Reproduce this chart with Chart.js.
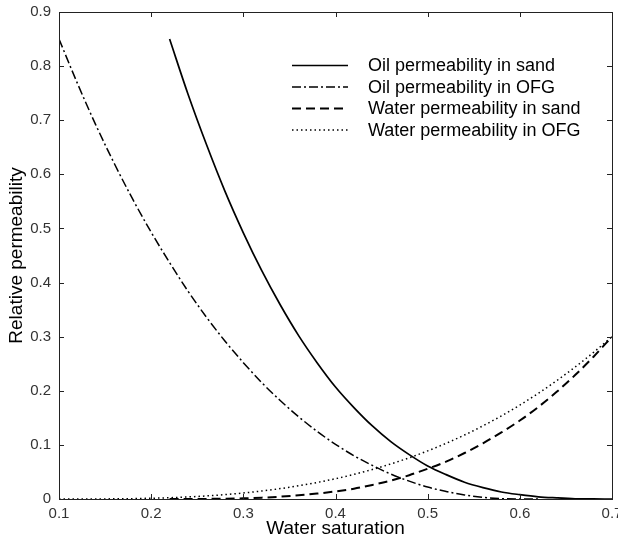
<!DOCTYPE html>
<html>
<head>
<meta charset="utf-8">
<title>Relative permeability</title>
<script src="https://cdn.jsdelivr.net/npm/chart.js@4/dist/chart.umd.min.js"></script>
<style>
  html, body { margin: 0; padding: 0; background: #fff; }
  #wrap { width: 618px; height: 543px; }
</style>
</head>
<body>
<div id="wrap"><canvas id="permChart" width="618" height="543"></canvas></div>
<script>
// Water saturation samples (shared by all curves)
const saturation = [0.10, 0.12, 0.14, 0.16, 0.18, 0.20, 0.22, 0.24, 0.26, 0.28, 0.30,
  0.32, 0.34, 0.36, 0.38, 0.40, 0.42, 0.44, 0.46, 0.48, 0.50,
  0.52, 0.54, 0.56, 0.58, 0.60, 0.62, 0.64, 0.66, 0.68, 0.70];

// Oil relative permeability, sand (starts at Sw = 0.22)
const oilSand = [null, null, null, null, null, null, 0.850, 0.748, 0.655, 0.569, 0.492,
  0.422, 0.359, 0.302, 0.252, 0.207, 0.169, 0.135, 0.106, 0.082, 0.061,
  0.045, 0.031, 0.021, 0.013, 0.008, 0.004, 0.002, 0.0005, 0.0001, 0];

// Oil relative permeability, OFG
const oilOFG = [0.850, 0.768, 0.691, 0.620, 0.554, 0.493, 0.437, 0.384, 0.336, 0.292, 0.252,
  0.215, 0.182, 0.152, 0.125, 0.101, 0.080, 0.062, 0.046, 0.033, 0.022,
  0.014, 0.0074, 0.0031, 0.0007, 0, 0, null, null, null, null];

// Water relative permeability, sand (starts at Sw = 0.22)
const waterSand = [null, null, null, null, null, null, 0, 0, 0.0002, 0.0006, 0.0013,
  0.0025, 0.0043, 0.0068, 0.010, 0.014, 0.019, 0.026, 0.034, 0.044, 0.056,
  0.069, 0.085, 0.103, 0.123, 0.145, 0.170, 0.198, 0.229, 0.263, 0.300];

// Water relative permeability, OFG
const waterOFG = [0, 0, 0.0001, 0.0003, 0.0007, 0.0014, 0.0024, 0.0038, 0.0057, 0.0081, 0.0111,
  0.0148, 0.0192, 0.0244, 0.0305, 0.0375, 0.0455, 0.0546, 0.0648, 0.0762, 0.0889,
  0.1029, 0.1183, 0.1352, 0.1536, 0.1736, 0.1953, 0.2187, 0.2439, 0.2710, 0.300];

const seriesNames = ['Oil permeability in sand', 'Oil permeability in OFG',
  'Water permeability in sand', 'Water permeability in OFG'];

const xTicks = [0.1, 0.2, 0.3, 0.4, 0.5, 0.6, 0.7];
const yTicks = [0, 0.1, 0.2, 0.3, 0.4, 0.5, 0.6, 0.7, 0.8, 0.9];

const FONT = "'Liberation Sans', Arial, Helvetica, sans-serif";

const toPoints = vals => saturation.map((x, i) => ({ x: x, y: vals[i] }));

const styles = [
  { width: 1.7, dash: [] },
  { width: 1.5, dash: [9, 3, 2, 3] },
  { width: 2, dash: [9, 5] },
  { width: 1.5, dash: [1.5, 3] }
];

const datasets = [oilSand, oilOFG, waterSand, waterOFG].map((vals, i) => ({
  label: seriesNames[i],
  data: toPoints(vals),
  borderColor: '#000',
  borderWidth: styles[i].width,
  borderDash: styles[i].dash,
  pointRadius: 0,
  fill: false,
  cubicInterpolationMode: 'monotone',
  spanGaps: false
}));

// box around the axes + ticks pointing inward on all four sides
const frameTicks = {
  id: 'frameTicks',
  afterDraw(chart) {
    const { ctx, chartArea: a, scales: { x, y } } = chart;
    const len = 5;
    ctx.save();
    ctx.strokeStyle = '#222';
    ctx.lineWidth = 1;
    ctx.setLineDash([]);
    ctx.beginPath();
    xTicks.forEach(v => {
      const px = Math.round(x.getPixelForValue(v)) + 0.5;
      ctx.moveTo(px, a.bottom); ctx.lineTo(px, a.bottom - len);
      ctx.moveTo(px, a.top); ctx.lineTo(px, a.top + len);
    });
    yTicks.forEach(v => {
      const py = Math.round(y.getPixelForValue(v)) + 0.5;
      ctx.moveTo(a.left, py); ctx.lineTo(a.left + len, py);
      ctx.moveTo(a.right, py); ctx.lineTo(a.right - len, py);
    });
    ctx.stroke();
    ctx.strokeRect(Math.round(a.left) + 0.5, Math.round(a.top) + 0.5,
      Math.round(a.right - a.left), Math.round(a.bottom - a.top));
    ctx.restore();
  }
};

// legend with line samples, top right inside the axes
const lineLegend = {
  id: 'lineLegend',
  afterDatasetsDraw(chart) {
    const { ctx } = chart;
    const rows = [65.5, 87, 108.5, 130];
    ctx.save();
    ctx.fillStyle = '#000';
    ctx.font = '18px ' + FONT;
    ctx.textBaseline = 'middle';
    chart.data.datasets.forEach((ds, i) => {
      const yy = rows[i];
      ctx.strokeStyle = '#000';
      ctx.lineWidth = ds.borderWidth;
      ctx.setLineDash(ds.borderDash);
      ctx.beginPath();
      ctx.moveTo(292, yy);
      ctx.lineTo(348, yy);
      ctx.stroke();
      ctx.setLineDash([]);
      ctx.fillText(ds.label, 368, yy + 1);
    });
    ctx.restore();
  }
};

new Chart(document.getElementById('permChart'), {
  type: 'line',
  data: { datasets: datasets },
  plugins: [frameTicks, lineLegend],
  options: {
    responsive: false,
    animation: false,
    devicePixelRatio: 1,
    layout: { padding: { top: 12, right: 6, left: 0, bottom: 0 } },
    plugins: {
      legend: { display: false },
      tooltip: { enabled: false }
    },
    scales: {
      x: {
        type: 'linear',
        min: 0.1,
        max: 0.7,
        afterBuildTicks: s => { s.ticks = xTicks.map(v => ({ value: v })); },
        afterFit: s => { s.height = 44; s.paddingLeft = 0; s.paddingRight = 0; },
        grid: { display: false, drawTicks: false },
        border: { display: false },
        ticks: {
          padding: 6,
          maxRotation: 0,
          autoSkip: false,
          color: '#333',
          font: { family: FONT, size: 15 },
          callback: v => String(+v.toFixed(1))
        },
        title: {
          display: true,
          text: 'Water saturation',
          color: '#000',
          font: { family: FONT, size: 19 },
          padding: { top: 0, bottom: 3 }
        }
      },
      y: {
        min: 0,
        max: 0.9,
        afterBuildTicks: s => { s.ticks = yTicks.map(v => ({ value: v })); },
        afterFit: s => { s.width = 59; s.paddingTop = 0; s.paddingBottom = 0; },
        grid: { display: false, drawTicks: false },
        border: { display: false },
        ticks: {
          padding: 8,
          autoSkip: false,
          color: '#333',
          font: { family: FONT, size: 15 },
          callback: v => String(+v.toFixed(1))
        },
        title: {
          display: true,
          text: 'Relative permeability',
          color: '#000',
          font: { family: FONT, size: 19 },
          padding: { top: 5, bottom: 0 }
        }
      }
    }
  }
});
</script>
</body>
</html>
